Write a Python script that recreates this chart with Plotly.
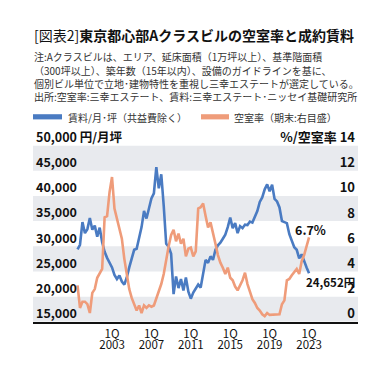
import plotly.graph_objects as go

# ---------------- data ----------------
rent = [
    29400, 30300, 34800, 32600, 33400, 35600, 33300, 34100, 31900, 33700,
    30800, 28900, 27700, 26700, 25800, 24300, 23500, 24200, 23000, 22400,
    23800, 25800, 27800, 29300, 29500, 31500, 33800, 37000, 35500, 37500,
    39500, 40500, 45700, 41500, 44300, 38000, 30500, 29900, 28500, 20500,
    24000, 21700, 23500, 21200, 23800, 21000, 19600, 20800, 21700, 22400,
    21800, 24500, 27300, 26700, 28000, 27300, 29300, 30200, 30700, 31500,
    32300, 33800, 35700, 33600, 34600, 32600, 34000, 33600, 34300, 34200,
    34900, 34700, 35800, 37000, 38800, 39700, 41300, 42300, 40900, 42200,
    39400, 38900, 37700, 35000, 34800, 34600, 32400, 31100, 29800, 29300,
    27600, 28400, 27000, 25800, 24652,
]
vacancy = [
    2.9, 1.1, 1.6, 1.6, 1.4, 0.7, 2.3, 2.6, 3.5, 3.8,
    4.2, 8.3, 8.4, 10.3, 11.5, 9.0, 8.2, 7.5, 6.6, 5.0,
    3.6, 2.6, 1.9, 1.4, 0.9, 1.3, 0.7, 1.3, 1.1, 1.3,
    1.2, 1.3, 1.9, 2.5, 3.0, 3.8, 5.0, 6.0, 6.9, 7.3,
    6.4, 7.0, 6.2, 6.6, 5.2, 5.8, 5.9, 5.2, 5.6, 9.0,
    9.1, 9.4, 8.4, 7.5, 7.9, 6.9, 6.2, 5.3, 4.7, 4.3,
    3.8, 4.3, 3.5, 3.3, 2.8, 2.5, 2.9, 3.3, 3.9, 3.0,
    2.4, 1.8, 1.5, 1.1, 0.9, 0.6, 0.45, 0.7, 0.55, 0.55,
    0.55, 0.55, 0.6, 1.4, 1.7, 3.3, 3.4, 3.7, 4.0, 4.2,
    3.8, 4.8, 5.3, 6.0, 6.7,
]

# quarter categories, 1999Q3 ... 2023Q1
quarters = []
yr, qt = 1999, 3
for _ in range(len(rent)):
    quarters.append(f"{yr}Q{qt}")
    qt += 1
    if qt > 4:
        qt, yr = 1, yr + 1
xpos = [int(s[:4]) + (int(s[5]) - 1) / 4 for s in quarters]

tick_years = [2003, 2007, 2011, 2015, 2019, 2023]
tick_q = ["1Q"] * len(tick_years)
tick_y = [str(y) for y in tick_years]
left_vals = [15000, 20000, 25000, 30000, 35000, 40000, 45000, 50000]
left_text = ["15,000", "20,000", "25,000", "30,000", "35,000", "40,000", "45,000", "50,000 円/月坪"]
right_vals = [0, 2, 4, 6, 8, 10, 12, 14]
right_text = ["0", "2", "4", "6", "8", "10", "12", "%/空室率 14"]
band_ranges = [(15000, 20000), (25000, 30000), (35000, 40000), (45000, 50000)]

title_plain = "[図表2]"
title_bold = "東京都心部Aクラスビルの空室率と成約賃料"
notes = [
    "注:Aクラスビルは、エリア、延床面積（1万坪以上）、基準階面積",
    "（300坪以上）、築年数（15年以内）、設備のガイドラインを基に、",
    "個別ビル単位で立地･建物特性を重視し三幸エステートが選定している。",
    "出所:空室率:三幸エステート、賃料:三幸エステート･ニッセイ基礎研究所",
]
legend_rent = "賃料/月･坪（共益費除く）"
legend_vac = "空室率（期末:右目盛）"

# ---------------- styling ----------------
# the page body keeps its default 8px margin; the figure fits inside it exactly
OX, OY = 8, 8
FW, FH = 391 - 2 * OX, 366 - 2 * OY
PL, PR, PT, PB = 33, 358, 133.7, 320.7   # plot area, window pixels
BLUE = "#4a7bc2"
ORANGE = "#ef9c7a"
BAND = "#e8eaee"
FONT = "Noto Sans CJK JP"


def px(x):
    return (x - OX) / FW


def py(y):
    return 1 - (y - OY) / FH


xr = [1994.98, 2027.97]

fig = go.Figure()
fig.add_trace(go.Scatter(x=xpos, y=vacancy, xaxis="x", yaxis="y2", mode="lines",
                         line=dict(color=ORANGE, width=2.6), name=legend_vac,
                         showlegend=False))
fig.add_trace(go.Scatter(x=xpos, y=rent, xaxis="x", yaxis="y", mode="lines",
                         line=dict(color=BLUE, width=2.6), name=legend_rent,
                         showlegend=False))

shapes = []
for lo, hi in band_ranges:
    shapes.append(dict(type="rect", xref="x", yref="y", x0=xr[0], x1=xr[1],
                       y0=lo, y1=hi, fillcolor=BAND, line=dict(width=0),
                       layer="below"))
shapes.append(dict(type="rect", xref="paper", yref="paper",
                   x0=px(33), x1=px(62), y0=py(106), y1=py(100.5),
                   fillcolor=BLUE, line=dict(width=0)))
shapes.append(dict(type="rect", xref="paper", yref="paper",
                   x0=px(201), x1=px(229), y0=py(106), y1=py(100.5),
                   fillcolor=ORANGE, line=dict(width=0)))

annotations = [
    dict(xref="paper", yref="paper", x=px(32), y=py(17), xanchor="left",
         yanchor="middle", showarrow=False,
         text=f"{title_plain}<b>{title_bold}</b>",
         font=dict(family=FONT, size=14, color="#111")),
]
note_y = [39.5, 53.8, 68.0, 82.2]
for t, yy in zip(notes, note_y):
    annotations.append(dict(xref="paper", yref="paper", x=px(32), y=py(yy),
                            xanchor="left", yanchor="middle", showarrow=False,
                            text=t, font=dict(family=FONT, size=10, color="#333")))
annotations.append(dict(xref="paper", yref="paper", x=px(66), y=py(103.5),
                        xanchor="left", yanchor="middle", showarrow=False,
                        text=legend_rent, font=dict(family=FONT, size=10, color="#333")))
annotations.append(dict(xref="paper", yref="paper", x=px(232), y=py(103.5),
                        xanchor="left", yanchor="middle", showarrow=False,
                        text=legend_vac, font=dict(family=FONT, size=10, color="#333")))
annotations.append(dict(xref="x", yref="y2", x=xpos[-1], y=vacancy[-1],
                        xanchor="center", yanchor="middle", xshift=1, yshift=8,
                        showarrow=False, text=f"<b>{vacancy[-1]}%</b>",
                        font=dict(family=FONT, size=12.5, color="#111")))
annotations.append(dict(xref="x", yref="y", x=xpos[-1], y=rent[-1],
                        xanchor="left", yanchor="middle", xshift=-5, yshift=-8.5,
                        showarrow=False, text=f"<b>{rent[-1]:,}円</b>",
                        font=dict(family=FONT, size=11.5, color="#111")))

fig.update_layout(
    width=FW, height=FH,
    margin=dict(l=0, r=0, t=0, b=0),
    paper_bgcolor="white", plot_bgcolor="rgba(0,0,0,0)",
    showlegend=False,
    font=dict(family=FONT, color="#111"),
    xaxis=dict(domain=[px(PL), px(PR)], range=xr, anchor="y",
               tickmode="array", tickvals=tick_years, ticktext=tick_q,
               showline=True, linecolor="#111", linewidth=1.6, ticks="",
               showgrid=False, zeroline=False, ticklabelstandoff=1,
               tickfont=dict(family=FONT, size=11.5, color="#111")),
    xaxis2=dict(overlaying="x", matches="x", range=xr, anchor="y", side="bottom",
                tickmode="array", tickvals=tick_years, ticktext=tick_y,
                showline=False, ticks="", showgrid=False, zeroline=False,
                ticklabelstandoff=15,
                tickfont=dict(family=FONT, size=11.5, color="#111")),
    yaxis=dict(domain=[py(PB), py(PT)], range=[15000, 50000],
               tickmode="array", tickvals=left_vals, ticktext=left_text,
               ticklabelposition="inside", ticklabelshift=-8, ticklabelstandoff=0,
               ticklabeloverflow="allow",
               showgrid=False, zeroline=False, showline=False, ticks="",
               tickfont=dict(family=FONT, size=12.5, color="#111", weight="bold")),
    yaxis2=dict(overlaying="y", side="right", range=[0, 14], anchor="x",
                tickmode="array", tickvals=right_vals, ticktext=right_text,
                ticklabelposition="inside", ticklabelshift=-8, ticklabelstandoff=0,
                ticklabeloverflow="allow",
                showgrid=False, zeroline=False, showline=False, ticks="",
                tickfont=dict(family=FONT, size=13, color="#111", weight="bold")),
    shapes=shapes,
    annotations=annotations,
)
fig.add_trace(go.Scatter(x=[xpos[0]], y=[rent[0]], xaxis="x2", yaxis="y",
                         mode="markers", marker=dict(opacity=0), hoverinfo="skip",
                         showlegend=False))

fig.write_html("out.html")
